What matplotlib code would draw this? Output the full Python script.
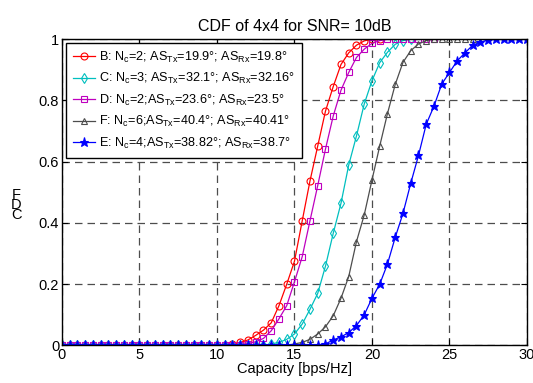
import numpy as np
import matplotlib
matplotlib.use("Agg")
import matplotlib.pyplot as plt

plt.rcParams['font.family'] = ['Liberation Sans', 'DejaVu Sans']
plt.rcParams['mathtext.fontset'] = 'custom'
plt.rcParams['mathtext.rm'] = 'Liberation Sans'
plt.rcParams['mathtext.it'] = 'Liberation Sans'

step = 0.5
end_B, end_C, end_D, end_F, end_E = 20.5, 22.5, 24.0, 26.5, 30.0

cdf_B = [0, 0, 0, 0, 0, 0, 0, 0, 0, 0, 0, 0, 0, 0, 0, 0, 0, 0, 0, 0, 0, 0,
         0.005, 0.01, 0.018, 0.033, 0.05, 0.074, 0.13, 0.20, 0.275, 0.407,
         0.537, 0.651, 0.765, 0.845, 0.917, 0.955, 0.98, 0.994, 1.0, 1.0]
cdf_C = [0, 0, 0, 0, 0, 0, 0, 0, 0, 0, 0, 0, 0, 0, 0, 0, 0, 0, 0, 0, 0, 0,
         0, 0, 0, 0, 0,
         0.005, 0.01, 0.02, 0.0375, 0.07, 0.118, 0.17, 0.259, 0.366, 0.464,
         0.589, 0.684, 0.788, 0.864, 0.923, 0.957, 0.983, 0.995, 1.0]
cdf_D = [0, 0, 0, 0, 0, 0, 0, 0, 0, 0, 0, 0, 0, 0, 0, 0, 0, 0, 0, 0, 0, 0,
         0.001, 0.003, 0.006, 0.012, 0.023, 0.048, 0.087, 0.13, 0.208, 0.29,
         0.407, 0.522, 0.641, 0.749, 0.833, 0.891, 0.94, 0.967, 0.986, 0.995,
         0.999, 1.0, 1.0, 1.0, 1.0, 1.0, 1.0]
cdf_F = [0, 0, 0, 0, 0, 0, 0, 0, 0, 0, 0, 0, 0, 0, 0, 0, 0, 0, 0, 0, 0, 0,
         0, 0, 0, 0, 0, 0, 0, 0,
         0.005, 0.01, 0.02, 0.0375, 0.061, 0.097, 0.154, 0.225, 0.339, 0.426,
         0.54, 0.651, 0.757, 0.852, 0.924, 0.962, 0.984, 0.995, 1.0, 1.0,
         1.0, 1.0, 1.0, 1.0]
cdf_E = [0, 0, 0, 0, 0, 0, 0, 0, 0, 0, 0, 0, 0, 0, 0, 0, 0, 0, 0, 0, 0, 0,
         0, 0, 0, 0, 0, 0, 0, 0, 0, 0, 0,
         0.002, 0.005, 0.018, 0.028, 0.042, 0.065, 0.1, 0.154, 0.2, 0.266,
         0.353, 0.431, 0.529, 0.62, 0.722, 0.781, 0.853, 0.891, 0.929, 0.955,
         0.98, 0.99, 0.997, 1.0, 1.0, 1.0, 1.0, 1.0]

labels = [
    r"B: N$_\mathrm{c}$=2; AS$_\mathrm{Tx}$=19.9°; AS$_\mathrm{Rx}$=19.8°",
    r"C: N$_\mathrm{c}$=3; AS$_\mathrm{Tx}$=32.1°; AS$_\mathrm{Rx}$=32.16°",
    r"D: N$_\mathrm{c}$=2;AS$_\mathrm{Tx}$=23.6°; AS$_\mathrm{Rx}$=23.5°",
    r"F: N$_\mathrm{c}$=6;AS$_\mathrm{Tx}$=40.4°; AS$_\mathrm{Rx}$=40.41°",
    r"E: N$_\mathrm{c}$=4;AS$_\mathrm{Tx}$=38.82°; AS$_\mathrm{Rx}$=38.7°",
]
x_ticks = [0, 5, 10, 15, 20, 25, 30]
y_ticks = [0, 0.2, 0.4, 0.6, 0.8, 1]
y_ticklabels = ["0", "0.2", "0.4", "0.6", "0.8", "1"]

fig = plt.figure(figsize=(5.33, 3.83), dpi=100)
ax = fig.add_axes([0.1163, 0.098, 0.8724, 0.800])

series = [
    (cdf_B, end_B, 'r', 'o'),
    (cdf_C, end_C, (0.0, 0.75, 0.75), 'd'),
    (cdf_D, end_D, (0.75, 0.0, 0.75), 's'),
    (cdf_F, end_F, (0.3, 0.3, 0.3), '^'),
    (cdf_E, end_E, 'b', '*'),
]
for (vals, end, col, mk), lab in zip(series, labels):
    xs = np.arange(0, end + step / 2, step)
    ms = 6.5 if mk == '*' else 5
    ax.plot(xs, vals, color=col, lw=0.9, marker=mk, ms=ms,
            mfc='none' if mk != '*' else col, mec=col, mew=0.8, label=lab)

ax.set_xlim(0, 30)
ax.set_ylim(0, 1)
ax.set_xticks(x_ticks)
ax.set_yticks(y_ticks)
ax.set_yticklabels(y_ticklabels)
ax.tick_params(direction='in', top=True, right=True, length=4, labelsize=10.5, pad=2)
ax.grid(True, color='0.3', linestyle=(0, (6, 4)), linewidth=0.9)
for s in ax.spines.values():
    s.set_linewidth(1.0)

ax.set_title("CDF of 4x4 for SNR= 10dB", fontsize=11.5, pad=6)
ax.set_xlabel("Capacity [bps/Hz]", fontsize=10.5, labelpad=0)
fig.text(0.031, 0.465, "F\nD\nC", fontsize=10.5, ha='center', va='center',
         linespacing=0.62)

leg = ax.legend(loc='upper left', fontsize=9.1, frameon=True, fancybox=False,
                edgecolor='black', framealpha=1, borderaxespad=0.3,
                handlelength=1.8, handletextpad=0.3, labelspacing=0.5,
                borderpad=0.55)
leg.get_frame().set_linewidth(1.0)

fig.savefig("out.png", dpi=100)
